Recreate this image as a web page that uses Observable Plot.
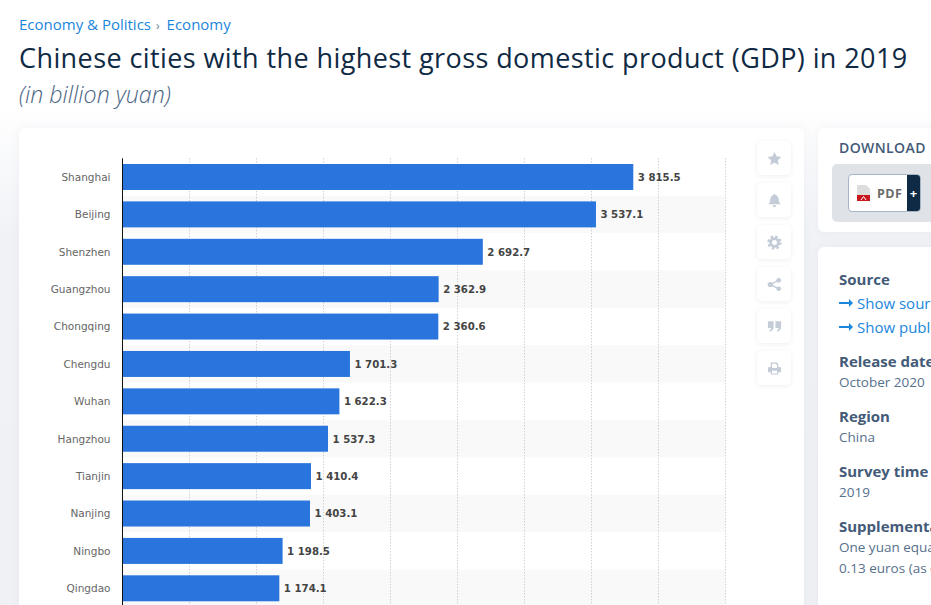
<!DOCTYPE html>
<html><head><meta charset="utf-8">
<script src="https://cdn.jsdelivr.net/npm/d3@7"></script>
<script src="https://cdn.jsdelivr.net/npm/@observablehq/plot@0.6"></script>
<style>
html,body{margin:0;padding:0;width:931px;height:605px;overflow:hidden}
body{position:relative;font-family:"Open Sans",sans-serif;background:linear-gradient(#fff 0,#fff 105px,#f0f2f6 240px,#eff1f5 100%)}
.abs{position:absolute;white-space:nowrap}
.card{position:absolute;background:#fff;border-radius:6px;box-shadow:0 0 12px rgba(60,80,110,.05)}
.crumb{left:19px;top:14px;font-size:15px;line-height:20px;color:#1a86dc}
.crumb i{font-style:normal;color:#6b7f95;font-size:12px;margin:0 7px 0 5px}
h1{margin:0;left:19px;top:39px;font-size:27px;line-height:38px;font-weight:500;color:#0f2a44;letter-spacing:.41px}
.sub{left:19px;top:79px;font-size:23.2px;line-height:31px;font-style:italic;font-weight:300;color:#4a6584}
.btn{position:absolute;left:757px;width:34px;height:34px;background:#fff;border-radius:5px;box-shadow:0 1px 5px rgba(60,80,110,.09)}
.btn svg{position:absolute;left:9.5px;top:9.5px;width:15px;height:15px;fill:#c4ccd7}
.h{left:839px;font-size:15px;line-height:20px;font-weight:700;color:#435a78}
.t{left:839px;font-size:13.5px;line-height:20px;color:#56708d}
.l{left:857px;font-size:15px;line-height:20px;color:#1a86dc}
.arrow{position:absolute;left:839px;width:14px;height:10px}
#chart{position:absolute;left:0;top:158px}
#chart svg{background:transparent;display:block}
</style></head><body>
<div class="abs crumb">Economy &amp; Politics<i>›</i>Economy</div>
<h1 class="abs">Chinese cities with the highest gross domestic product (GDP) in 2019</h1>
<div class="abs sub">(in billion yuan)</div>

<div class="card" style="left:19px;top:128px;width:785px;height:520px"></div>
<div id="chart"></div>

<div class="btn" style="top:141px"><svg viewBox="0 0 16 16"><path d="M8 1l2.200 4.600 5 .7-3.600 3.500.9 5L8 12.400 3.500 14.800l.9-5L.8 6.300l5-.7z"/></svg></div>
<div class="btn" style="top:183px"><svg viewBox="0 0 16 16"><path d="M8 1c.6 0 1 .4 1 1 2.300.5 3.500 2.500 3.500 5 0 2.500 1 3.700 2 5H1.500c1-1.300 2-2.500 2-5 0-2.500 1.200-4.500 3.500-5 0-.6.400-1 1-1zM6 13h4a2 2 0 0 1-4 0z"/></svg></div>
<div class="btn" style="top:225px"><svg viewBox="0 0 16 16"><g fill="none" stroke="#c4ccd7"><circle cx="8" cy="8" r="4.200" stroke-width="3"/><circle cx="8" cy="8" r="6.300" stroke-width="2.600" stroke-dasharray="2.600 2.350"/></g></svg></div>
<div class="btn" style="top:267px"><svg viewBox="0 0 16 16"><circle cx="3.500" cy="8" r="2.800"/><circle cx="12.500" cy="3.500" r="2.500"/><circle cx="12.500" cy="12.500" r="2.500"/><path d="M3.500 7.200l8.500-4.400.7 1.400-8.500 4.400zM4.200 7.400l8.500 4.400-.7 1.400-8.500-4.400z"/></svg></div>
<div class="btn" style="top:309px"><svg viewBox="0 0 16 16"><path d="M1 2.500h6v6c0 2.500-1.500 4.500-4 5l-.6-1.400c1.300-.5 2-1.500 2-2.600H1zM9 2.500h6v6c0 2.500-1.500 4.500-4 5l-.6-1.400c1.300-.5 2-1.500 2-2.600H9z"/></svg></div>
<div class="btn" style="top:351px"><svg viewBox="0 0 16 16"><path fill-rule="evenodd" d="M4 1.500h6.500L12 3v3.500h1.500c.8 0 1.500.7 1.500 1.500v4h-3v2.500H4V12H1V8c0-.8.700-1.500 1.500-1.500H4zM5.300 2.800v4.700h5.400V3.800H9.500v-1zM5.300 10.500v2.700h5.400v-2.700z"/></svg></div>

<div class="card" style="left:818px;top:128px;width:200px;height:104px"></div>
<div class="abs" style="left:839px;top:138px;font-size:14px;line-height:20px;font-weight:600;letter-spacing:.4px;color:#435a78">DOWNLOAD</div>
<div class="abs" style="left:832px;top:164px;width:150px;height:58px;background:#dfe2e7;border-radius:5px"></div>
<div class="abs" style="left:848px;top:174px;width:71px;height:36px;background:#fff;border:1px solid #a5b5c6;border-radius:4px;overflow:hidden">
  <div class="abs" style="left:58px;top:0;width:13px;height:36px;background:#0f2a44;color:#fff;font-size:13px;font-weight:700;line-height:36px;text-align:center">+</div>
  <div class="abs" style="left:28px;top:9px;font-size:12.5px;line-height:20px;font-weight:700;color:#6b6b6b;letter-spacing:.4px">PDF</div>
  <svg class="abs" style="left:8px;top:10px" width="13" height="16" viewBox="0 0 13 16"><path d="M0 0h9l4 4v6H0z" fill="#ddd"/><path d="M0 10h13v6H0z" fill="#c8171d"/><path d="M4 15l2.500-3.500L9 15" stroke="#fff" fill="none"/></svg>
</div>

<div class="card" style="left:818px;top:247px;width:200px;height:420px"></div>
<div class="abs h" style="top:269px">Source</div>
<svg class="arrow" style="top:298px" viewBox="0 0 14 10"><path d="M0 4h10V1l4 4-4 4V6H0z" fill="#1a86dc"/></svg>
<div class="abs l" style="top:293px">Show sources information</div>
<svg class="arrow" style="top:322px" viewBox="0 0 14 10"><path d="M0 4h10V1l4 4-4 4V6H0z" fill="#1a86dc"/></svg>
<div class="abs l" style="top:317px">Show publisher information</div>
<div class="abs h" style="top:351px">Release date</div>
<div class="abs t" style="top:372px">October 2020</div>
<div class="abs h" style="top:406px">Region</div>
<div class="abs t" style="top:427px">China</div>
<div class="abs h" style="top:461px">Survey time period</div>
<div class="abs t" style="top:482px">2019</div>
<div class="abs h" style="top:516px">Supplementary notes</div>
<div class="abs t" style="top:537px">One yuan equals approximately</div>
<div class="abs t" style="top:558px">0.13 euros (as of October 2020)</div>

<script>
const cities = ["Shanghai","Beijing","Shenzhen","Guangzhou","Chongqing","Chengdu","Wuhan","Hangzhou","Tianjin","Nanjing","Ningbo","Qingdao"];
const gdp = [3815.5,3537.1,2692.7,2362.9,2360.6,1701.3,1622.3,1537.3,1410.4,1403.1,1198.5,1174.1];
const gridTicks = [500,1000,1500,2000,2500,3000,3500,4000,4500];
const xMax = 4500;

const rows = cities.map((city,i)=>({city,value:gdp[i]}));
const striped = cities.filter((_,i)=>i%2===1);
const fmt = v => { const [a,b]=v.toFixed(1).split("."); return (a.length>3?a.slice(0,-3)+" "+a.slice(-3):a)+"."+b; };

const chart = Plot.plot({
  width:760, height:449,
  marginLeft:122, marginRight:35, marginTop:0.3, marginBottom:0,
  x:{domain:[0,xMax],axis:null},
  y:{domain:cities,padding:0,round:false,label:null},
  style:{background:"transparent"},
  marks:[
    Plot.barX(striped,{y:d=>d,x1:0,x2:xMax,fill:"#f9f9f9"}),
    Plot.ruleX(gridTicks,{stroke:"#bdbdbd",strokeDasharray:"1,2",strokeWidth:1}),
    Plot.barX(rows,{y:"city",x:"value",fill:"#2a75dd",insetTop:5.7,insetBottom:5.7}),
    Plot.ruleX([0],{stroke:"#111",strokeWidth:1}),
    Plot.text(rows,{y:"city",x:"value",text:d=>fmt(d.value),textAnchor:"start",dx:4,fill:"#444",
      fontFamily:"DejaVu Sans",fontSize:10.2,fontWeight:700}),
    Plot.axisY({tickSize:0,tickPadding:12,label:null,fontFamily:"DejaVu Sans",fontSize:10.5,color:"#666"})
  ]
});
document.getElementById("chart").append(chart);
</script>
</body></html>
